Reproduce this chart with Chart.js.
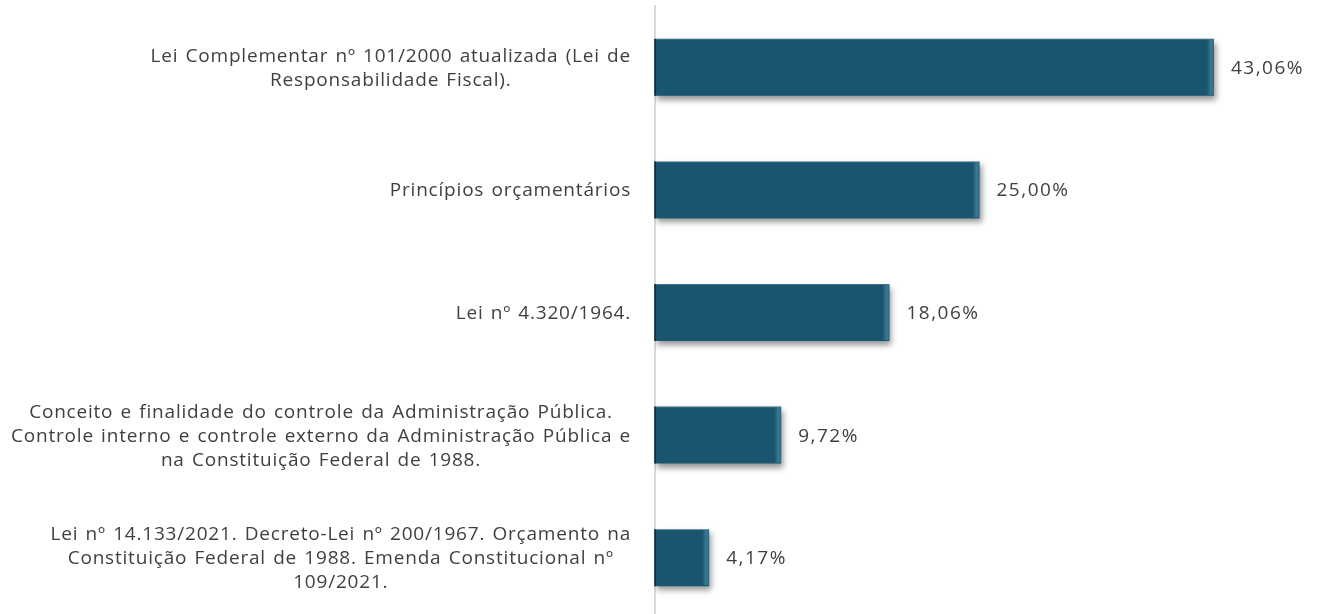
<!DOCTYPE html>
<html>
<head>
<meta charset="utf-8">
<script src="https://cdn.jsdelivr.net/npm/chart.js@4.4.1/dist/chart.umd.min.js"></script>
<style>
  html, body { margin: 0; padding: 0; background: #ffffff; overflow: hidden; width: 1322px; height: 614px; }
  #wrap { width: 1322px; height: 626px; }
</style>
</head>
<body>
<div id="wrap"><canvas id="c" width="1322" height="626"></canvas></div>
<script>
const categories = [
  ["Lei Complementar nº 101/2000 atualizada (Lei de", "Responsabilidade Fiscal)."],
  ["Princípios orçamentários"],
  ["Lei nº 4.320/1964."],
  ["Conceito e finalidade do controle da Administração Pública.", "Controle interno e controle externo da Administração Pública e", "na Constituição Federal de 1988."],
  ["Lei nº 14.133/2021. Decreto-Lei nº 200/1967. Orçamento na", "Constituição Federal de 1988. Emenda Constitucional nº", "109/2021."]
];
const values = [43.06, 25.00, 18.06, 9.72, 4.17];

const BAR_COLOR = '#1a5570';
const TEXT_COLOR = '#3f3f3f';
const FONT = '19px "Open Sans"';
const VALUE_FONT = '19px "Open Sans"';

function fmt(v) { return v.toFixed(2).replace('.', ',') + '%'; }

const barShadow = {
  id: 'barShadow',
  beforeDatasetDraw(chart) {
    const ctx = chart.ctx;
    ctx.save();
    ctx.shadowColor = 'rgba(0,0,0,0.42)';
    ctx.shadowBlur = 6;
    ctx.shadowOffsetX = 2;
    ctx.shadowOffsetY = 4;
  },
  afterDatasetDraw(chart, args) {
    const ctx = chart.ctx;
    ctx.restore();
    const meta = args.meta;
    meta.data.forEach(bar => {
      const left = Math.min(bar.base, bar.x);
      const right = Math.max(bar.base, bar.x);
      const top = bar.y - bar.height / 2;
      const h = bar.height;
      ctx.save();
      const g = ctx.createLinearGradient(right - 7, 0, right, 0);
      g.addColorStop(0, 'rgba(90,150,175,0)');
      g.addColorStop(0.6, 'rgba(90,150,175,0.55)');
      g.addColorStop(1, 'rgba(60,110,135,0.6)');
      ctx.fillStyle = g;
      ctx.fillRect(right - 7, top + 1, 7, h - 2);
      ctx.fillStyle = 'rgba(255,255,255,0.18)';
      ctx.fillRect(left, top, right - left, 1);
      ctx.fillStyle = 'rgba(10,40,55,0.8)';
      ctx.fillRect(left - 1, top, 2, h);
      ctx.restore();
    });
  }
};

const textLabels = {
  id: 'textLabels',
  afterDraw(chart) {
    const ctx = chart.ctx;
    const yScale = chart.scales.y;
    const meta = chart.getDatasetMeta(0);
    ctx.save();
    ctx.font = FONT;
    ctx.letterSpacing = '0.8px';
    ctx.wordSpacing = '1.5px';
    ctx.fillStyle = TEXT_COLOR;
    ctx.textBaseline = 'middle';
    const lineH = 24;
    const blockRight = chart.chartArea.left - 24;
    chart.data.labels.forEach((lines, i) => {
      const cy = yScale.getPixelForValue(i);
      const widths = lines.map(l => ctx.measureText(l).width);
      const maxW = Math.max(...widths);
      const cx = blockRight - maxW / 2;
      ctx.textAlign = 'center';
      lines.forEach((l, k) => {
        const y = cy + (k - (lines.length - 1) / 2) * lineH + 1;
        ctx.fillText(l, cx, y);
      });
    });
    ctx.font = VALUE_FONT;
    ctx.letterSpacing = '1.5px';
    ctx.wordSpacing = '0px';
    ctx.textAlign = 'left';
    meta.data.forEach((bar, i) => {
      ctx.fillText(fmt(chart.data.datasets[0].data[i]), bar.x + 17, bar.y + 1);
    });
    ctx.restore();
  }
};

new Chart(document.getElementById('c'), {
  type: 'bar',
  data: {
    labels: categories,
    datasets: [{
      data: values,
      backgroundColor: BAR_COLOR,
      borderWidth: 0,
      categoryPercentage: 1.0,
      barPercentage: 0.465
    }]
  },
  options: {
    indexAxis: 'y',
    responsive: false,
    animation: false,
    events: [],
    layout: { padding: { top: 6, bottom: 7, right: 18, left: 0 } },
    plugins: { legend: { display: false }, tooltip: { enabled: false } },
    scales: {
      x: { display: false, min: 0, max: 50 },
      y: {
        ticks: { display: false },
        grid: { display: false, drawTicks: false },
        border: { display: true, color: '#d9d9d9', width: 2 },
        afterFit(scale) { scale.width = 655; }
      }
    }
  },
  plugins: [barShadow, textLabels]
});
</script>
</body>
</html>
